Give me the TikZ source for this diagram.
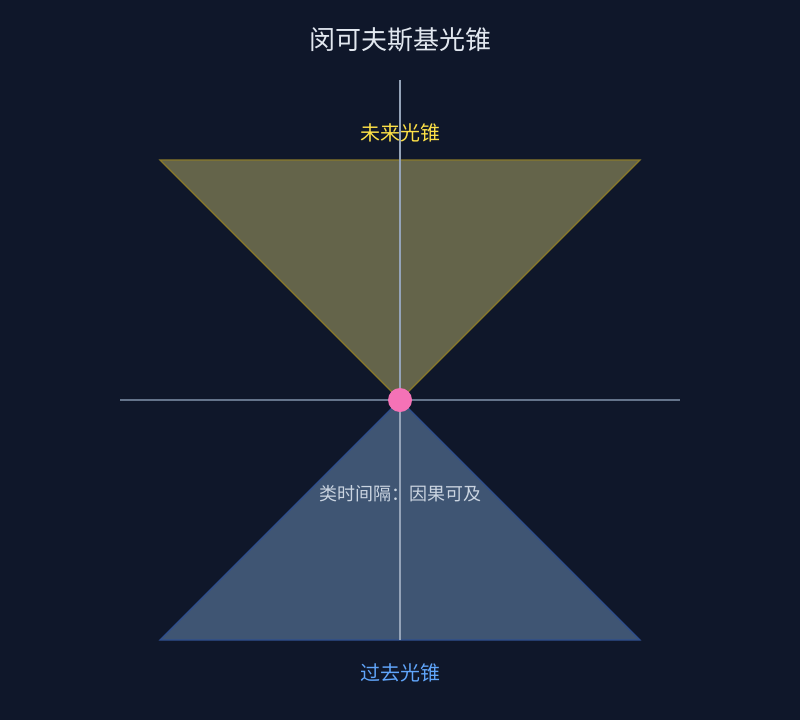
\documentclass[tikz,border=0pt]{standalone}
\usepackage{fontspec}
\setmainfont{Noto Sans CJK SC}
\usetikzlibrary{positioning}
\definecolor{bgdark}{HTML}{0F172A}
\definecolor{futurefill}{HTML}{64644A}
\definecolor{futureline}{HTML}{8A7A2A}
\definecolor{pastfill}{HTML}{3F5573}
\definecolor{pastline}{HTML}{2E4E8E}
\definecolor{axisgray}{HTML}{64748B}
\definecolor{axislight}{HTML}{94A3B8}
\definecolor{eventpink}{HTML}{F472B6}
\definecolor{titletext}{HTML}{E2E8F0}
\definecolor{futuretext}{HTML}{FDE047}
\definecolor{pasttext}{HTML}{60A5FA}
\definecolor{notetext}{HTML}{CBD5E1}
\begin{document}
\begin{tikzpicture}[x=1pt,y=-1pt]
            \tikzstyle{cone}=[line width=1.2pt,line join=miter]
            \tikzstyle{label}=[inner sep=0pt,anchor=center]
            \fill[bgdark] (0,0) rectangle (800,720);
            \useasboundingbox (0,0) rectangle (800,720);

            % light cones
            \coordinate (o) at (400,400);
            \coordinate (fl) at (160,160);
            \coordinate (fr) at (640,160);
            \coordinate (pl) at (160,640);
            \coordinate (pr) at (640,640);
            \filldraw[cone,fill=futurefill,draw=futureline] (fl) -- (fr) -- (o) -- cycle;
            \filldraw[cone,fill=pastfill,draw=pastline] (o) -- (pl) -- (pr) -- cycle;

            % axes
            \coordinate (xl) at (120,400);
            \coordinate (xr) at (680,400);
            \coordinate (tt) at (400,80);
            \coordinate (tb) at (400,640);
            \draw[axisgray,line width=1.2pt] (xl) -- (xr);
            \draw[axislight,line width=1.2pt] (tt) -- (tb);

            \fill[eventpink] (o) circle (12);

            \node[label,text=titletext] (title) at (400,40) {\fontsize{26}{30}\selectfont 闵可夫斯基光锥};
            \node[label,text=futuretext] (future) at (400,133) {\fontsize{20}{24}\selectfont 未来光锥};
            \node[label,text=notetext] (interval) at (400,494) {\fontsize{18}{22}\selectfont 类时间隔：因果可及};
            \node[label,text=pasttext] (past) at (400,673) {\fontsize{20}{24}\selectfont 过去光锥};
        \end{tikzpicture}
\end{document}
